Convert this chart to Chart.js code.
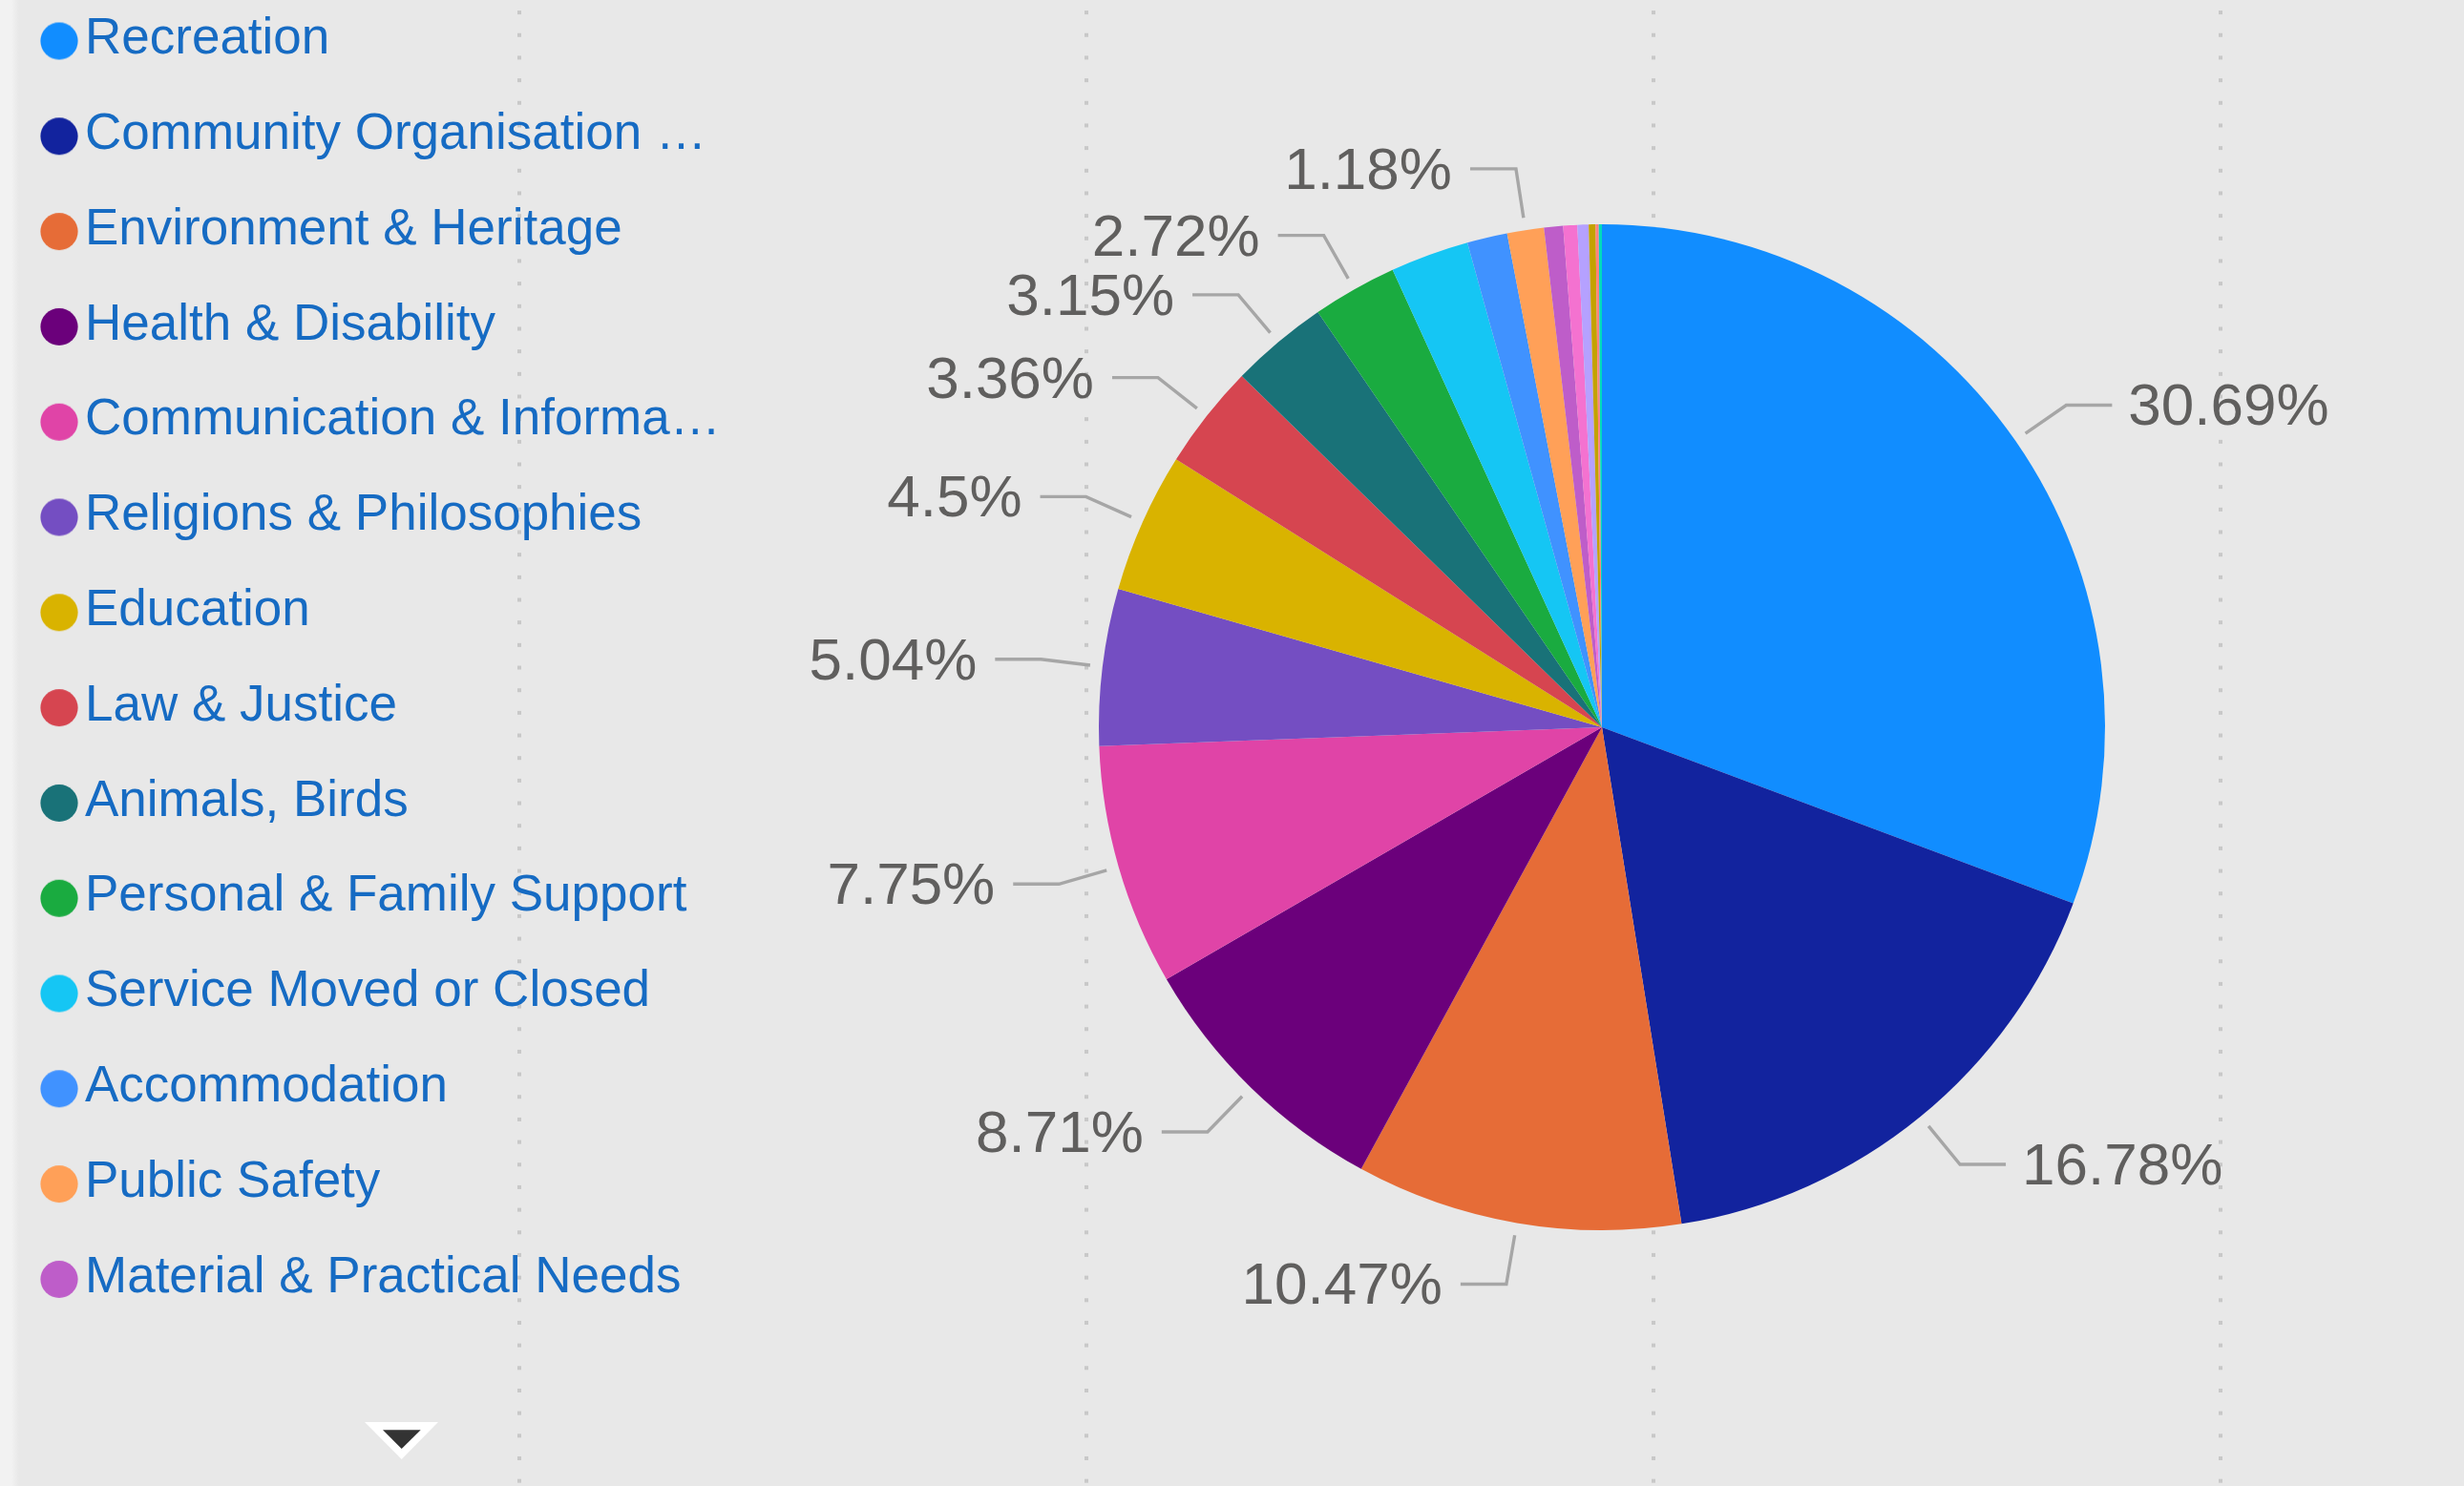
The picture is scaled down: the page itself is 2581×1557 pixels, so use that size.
<!DOCTYPE html>
<html>
<head>
<meta charset="utf-8">
<script src="https://cdn.jsdelivr.net/npm/chart.js@4"></script>
<style>
html,body{margin:0;padding:0;background:#e8e8e8;overflow:hidden}
canvas{display:block}
</style>
</head>
<body>
<canvas id="c" width="2581" height="1557" style="width:2581px;height:1557px"></canvas>
<script>
// ---- data ----
const categories = [
  "Recreation",
  "Community Organisation & Development",
  "Environment & Heritage",
  "Health & Disability",
  "Communication & Information",
  "Religions & Philosophies",
  "Education",
  "Law & Justice",
  "Animals, Birds",
  "Personal & Family Support",
  "Service Moved or Closed",
  "Accommodation",
  "Public Safety",
  "Material & Practical Needs",
  "Employment",
  "Income & Finance",
  "Transport",
  "Arts & Culture",
  "Other"
];
const shares = [30.69, 16.78, 10.47, 8.71, 7.75, 5.04, 4.5, 3.36, 3.15, 2.72, 2.52, 1.29, 1.18, 0.61, 0.45, 0.36, 0.22, 0.10, 0.10];
const sliceColors = ["#118DFF","#12239E","#E66C37","#6B007B","#E044A7","#744EC2","#D9B300","#D64550","#197278","#1AAB40","#15C6F4","#4092FF","#FFA058","#BE5DC9","#F472D0","#B5A1FF","#C4A200","#FF8080","#00DBBC"];
const labelledCategories = ["Recreation","Community Organisation & Development","Environment & Heritage","Health & Disability","Communication & Information","Religions & Philosophies","Education","Law & Justice","Animals, Birds","Personal & Family Support","Public Safety"];
const visibleLegendItems = 14;

// ---- styling ----
const FONT = '"Liberation Sans", Arial, sans-serif';
const LEGEND_SIZE = 53;
const LEGEND_COLOR = '#166bc3';
const LEGEND_MAX_TEXT = 670;
const LABEL_SIZE = 62;
const PIE_CX = 1678, PIE_CY = 762;

const mctx = document.createElement('canvas').getContext('2d');
mctx.font = LEGEND_SIZE + 'px ' + FONT;
function fitText(t) {
  if (mctx.measureText(t).width <= LEGEND_MAX_TEXT) return t;
  let s = t;
  while (s.length && mctx.measureText(s + '\u2026').width > LEGEND_MAX_TEXT) s = s.slice(0, -1);
  return s + '\u2026';
}
function dot(color) {
  const c = document.createElement('canvas');
  c.width = 40; c.height = 46;
  const g = c.getContext('2d');
  g.fillStyle = color;
  g.beginPath(); g.arc(20, 24.5, 19.6, 0, Math.PI * 2); g.fill();
  return c;
}
const dots = sliceColors.map(dot);

// keep the plot area centred on the reference pie centre
const areaPlugin = {
  id: 'area',
  afterLayout(chart) {
    const ca = chart.chartArea;
    ca.left = 2 * PIE_CX - ca.right;
    ca.top = 2 * PIE_CY - ca.bottom;
    ca.width = ca.right - ca.left;
    ca.height = ca.bottom - ca.top;
  }
};

const backgroundPlugin = {
  id: 'bg',
  beforeDraw(chart) {
    const ctx = chart.ctx;
    ctx.save();
    ctx.fillStyle = '#e8e8e8';
    ctx.fillRect(0, 0, chart.width, chart.height);
    const grad = ctx.createLinearGradient(12, 0, 20, 0);
    grad.addColorStop(0, '#f2f2f2');
    grad.addColorStop(1, '#e8e8e8');
    ctx.fillStyle = '#f2f2f2';
    ctx.fillRect(0, 0, 12, chart.height);
    ctx.fillStyle = grad;
    ctx.fillRect(12, 0, 8, chart.height);
    ctx.fillStyle = '#c8c8c8';
    [544, 1138, 1732, 2326].forEach(x => {
      for (let y = 13.1; y < chart.height; y += 23.67) ctx.fillRect(x - 2, y - 2, 4, 4);
    });
    ctx.restore();
  },
  afterDraw(chart) {
    const ctx = chart.ctx;
    ctx.save();
    ctx.fillStyle = '#ffffff';
    ctx.beginPath(); ctx.moveTo(382, 1490); ctx.lineTo(459, 1490); ctx.lineTo(420.7, 1529); ctx.closePath(); ctx.fill();
    ctx.fillStyle = '#333333';
    ctx.beginPath(); ctx.moveTo(401, 1498.3); ctx.lineTo(440.7, 1498.3); ctx.lineTo(420.7, 1518); ctx.closePath(); ctx.fill();
    ctx.restore();
  }
};

const labelPlugin = {
  id: 'outLabels',
  afterDatasetsDraw(chart) {
    const ctx = chart.ctx;
    const meta = chart.getDatasetMeta(0);
    const data = chart.data.datasets[0].data;
    const total = data.reduce((a, b) => a + b, 0);
    ctx.save();
    ctx.font = LABEL_SIZE + 'px ' + FONT;
    ctx.textBaseline = 'alphabetic';
    meta.data.forEach((arc, i) => {
      if (!labelledCategories.includes(chart.data.labels[i])) return;
      const p = arc.getProps(['x', 'y', 'startAngle', 'endAngle', 'outerRadius'], true);
      const mid = (p.startAngle + p.endAngle) / 2;
      const cx = Math.cos(mid), cy = Math.sin(mid);
      const r0 = p.outerRadius + 13, r1 = p.outerRadius + 65;
      const sx = p.x + cx * r0, sy = p.y + cy * r0;
      const ex = p.x + cx * r1, ey = p.y + cy * r1;
      const right = cx >= 0;
      const hx = ex + (right ? 48 : -48);
      ctx.strokeStyle = '#a6a6a6';
      ctx.lineWidth = 3.4;
      ctx.lineJoin = 'miter';
      ctx.beginPath(); ctx.moveTo(sx, sy); ctx.lineTo(ex, ey); ctx.lineTo(hx, ey); ctx.stroke();
      const pct = parseFloat((data[i] / total * 100).toFixed(2)) + '%';
      ctx.fillStyle = '#605f5e';
      ctx.textAlign = right ? 'left' : 'right';
      ctx.fillText(pct, hx + (right ? 17 : -19), ey + 21);
    });
    ctx.restore();
  }
};

new Chart(document.getElementById('c'), {
  type: 'pie',
  data: {
    labels: categories,
    datasets: [{
      data: shares,
      backgroundColor: sliceColors,
      borderWidth: 0,
      hoverOffset: 0,
      radius: 527
    }]
  },
  options: {
    responsive: false,
    devicePixelRatio: 1,
    animation: false,
    layout: { padding: { left: 14.7, top: -31.8, bottom: 0, right: 0 } },
    plugins: {
      tooltip: { enabled: false },
      legend: {
        position: 'left',
        align: 'start',
        labels: {
          font: { family: FONT, size: LEGEND_SIZE },
          color: LEGEND_COLOR,
          padding: 46.8,
          usePointStyle: true,
          pointStyleWidth: 1,
          generateLabels(ch) {
            return ch.data.labels.slice(0, visibleLegendItems).map((l, i) => ({
              text: fitText(l),
              fillStyle: sliceColors[i],
              strokeStyle: sliceColors[i],
              fontColor: LEGEND_COLOR,
              lineWidth: 0,
              pointStyle: dots[i],
              hidden: false,
              index: i
            }));
          }
        }
      }
    }
  },
  plugins: [areaPlugin, backgroundPlugin, labelPlugin]
});
</script>
</body>
</html>
